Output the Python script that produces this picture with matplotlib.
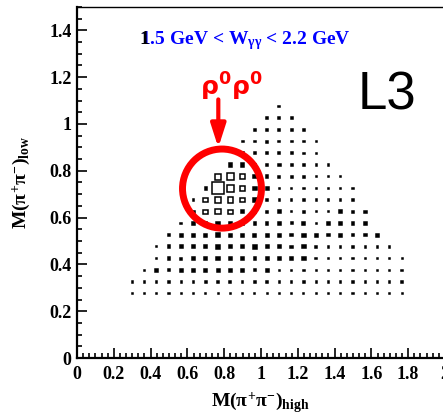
# L3 gamma gamma -> rho0 rho0 : M(pi+pi-)_low vs M(pi+pi-)_high box plot
import matplotlib
matplotlib.use("Agg")
import matplotlib.pyplot as plt
from matplotlib.patches import Rectangle, Ellipse
from matplotlib.ticker import MultipleLocator, FuncFormatter

plt.rcParams['font.family'] = ['Liberation Serif', 'DejaVu Sans']
plt.rcParams['font.weight'] = 'bold'
plt.rcParams['mathtext.fontset'] = 'custom'
plt.rcParams['mathtext.rm'] = 'Liberation Serif:bold'
plt.rcParams['mathtext.it'] = 'Liberation Serif'
plt.rcParams['mathtext.bf'] = 'Liberation Serif:bold'

# bin centres (GeV)
m_high_centers = [0.300, 0.367, 0.433, 0.500, 0.567, 0.633, 0.700, 0.767, 0.833, 0.900,
                  0.967, 1.033, 1.100, 1.167, 1.233, 1.300, 1.367, 1.433, 1.500, 1.567,
                  1.633, 1.700, 1.767]
m_low_centers = [1.075, 1.025, 0.975, 0.925, 0.875, 0.825, 0.775, 0.725, 0.675, 0.625,
                 0.575, 0.525, 0.475, 0.425, 0.375, 0.325, 0.275]
bin_w = 2.0 / 30
bin_h = 1.5 / 30

# relative box size per cell, rows follow m_low_centers, columns m_high_centers
box_size = [
    [0] * 12 + [.12] + [0] * 10,
    [0] * 11 + [.12, .12, .12] + [0] * 9,
    [0] * 10 + [.12, .14, .12, .12, .16] + [0] * 8,
    [0] * 9 + [.12, .12, .14, .12, .12, .09, .09] + [0] * 7,
    [0] * 9 + [.14, .14, .14, .12, .12, .09, .09] + [0] * 7,
    [0] * 8 + [.22, .22, .14, .12, .19, .12, .09, .09, .09] + [0] * 6,
    [0] * 7 + [.40, .44, .30, .22, .16, .14, .14, .14, .09, .09, .09] + [0] * 5,
    [0] * 6 + [.16, .80, .44, .32, .22, .19, .09, .09, .09, .09, .09, .09, .09] + [0] * 4,
    [0] * 5 + [.09, .32, .40, .36, .28, .22, .16, .09, .09, .09, .09, .09, .09, .09] + [0] * 4,
    [0] * 5 + [.16, .30, .36, .30, .19, .16, .16, .22, .09, .12, .09, .09, .22, .16, .16] + [0] * 3,
    [0] * 4 + [.12, .16, .16, .24, .19, .19, .16, .16, .22, .14, .19, .07, .16, .22, .16, .16] + [0] * 3,
    [0] * 3 + [.12, .19, .19, .19, .24, .19, .19, .19, .19, .22, .16, .22, .22, .16, .22, .16, .16, .19] + [0] * 2,
    [0] * 2 + [.07, .19, .19, .19, .19, .24, .19, .19, .24, .19, .22, .16, .22, .16, .09, .09, .09, .09, .09, .09] + [0],
    [0] * 2 + [.07, .19, .14, .19, .19, .24, .19, .19, .16, .19, .22, .16, .22, .12, .09, .09, .09, .09, .09, .09, .07],
    [0] + [.07, .19, .14, .19, .19, .19, .19, .19, .19, .16, .19, .09, .09, .09, .09, .09, .09, .09, .09, .09, .09, .09],
    [.09, .09, .10, .10, .09, .10, .10, .10, .10, .10, .09, .09, .09, .10, .09, .09, .09, .09, .09, .09, .09, .09, .09],
    [.07, .07, .07, .07, .07, .07, .07, .07, .07, .07, .07, .07, .07, .07, .07, .07, .07, .07, .07, .07, .07, .07, .07],
]

x_ticks = [0, 0.2, 0.4, 0.6, 0.8, 1.0, 1.2, 1.4, 1.6, 1.8, 2.0]
y_ticks = [0, 0.2, 0.4, 0.6, 0.8, 1.0, 1.2, 1.4]

fig = plt.figure(figsize=(4.43, 4.16), dpi=100)
ax = fig.add_axes([0.1738, 0.1394, 0.8307, 0.8438])
ax.set_xlim(0, 2)
ax.set_ylim(0, 1.5)

size_scale = 1.25  # box side = content * scale * bin size
for row, yc in zip(box_size, m_low_centers):
    for v, xc in zip(row, m_high_centers):
        if v <= 0:
            continue
        w = v * size_scale * bin_w
        h = v * size_scale * bin_h
        # small boxes look solid in the original (outline fills them)
        face = 'black' if v < 0.27 else 'white'
        ax.add_patch(Rectangle((xc - w / 2, yc - h / 2), w, h, facecolor=face,
                               edgecolor='black', lw=1.1, zorder=2))

# red circle and arrow around the rho0 rho0 region
ax.add_patch(Ellipse((0.788, 0.724), 0.429, 0.338, fill=False, edgecolor='red', lw=5, zorder=3))
ax.annotate('', xy=(0.768, 0.899), xytext=(0.768, 1.105),
            arrowprops=dict(arrowstyle='-|>,head_length=1.4,head_width=0.45', lw=3,
                            color='red', shrinkA=0, shrinkB=0), zorder=3)
ax.text(0.837, 1.12, r'$\mathrm{\rho}^{\mathbf{0}}\mathrm{\rho}^{\mathbf{0}}$', color='red',
        fontsize=18, ha='center', va='baseline', math_fontfamily='dejavusans')

title = '1.5 GeV < W$_{\\gamma\\gamma}$ < 2.2 GeV'
ax.text(0.342, 1.340, title, color='blue', fontsize=14, fontweight='bold',
        ha='left', va='baseline')
ax.text(0.342, 1.340, '1', color='black', fontsize=14, fontweight='bold',
        ha='left', va='baseline', zorder=5)

ax.text(1.6875, 1.062, 'L3', fontsize=38, family='Liberation Sans', fontweight='normal',
        ha='center', va='baseline')

ax.set_xticks(x_ticks)
ax.set_yticks(y_ticks)
fmt = FuncFormatter(lambda v, p: '%g' % v)
ax.xaxis.set_major_formatter(fmt)
ax.yaxis.set_major_formatter(fmt)
ax.xaxis.set_minor_locator(MultipleLocator(1 / 30))
ax.yaxis.set_minor_locator(MultipleLocator(0.05))
ax.tick_params(which='both', direction='in', top=False, right=False, width=1.2)
ax.tick_params(which='major', length=7.5, labelsize=13)
ax.tick_params(which='minor', length=3.6)
ax.tick_params(axis='x', pad=6)
ax.tick_params(axis='y', pad=4)
for lab in ax.get_xticklabels() + ax.get_yticklabels():
    lab.set_fontweight('bold')

ax.spines['left'].set_linewidth(1.6)
ax.spines['bottom'].set_linewidth(1.6)
ax.spines['top'].set_linewidth(1.0)
ax.spines['right'].set_linewidth(1.0)

ax.set_xlabel(r'$\mathrm{M}(\pi^{+}\pi^{-})_{\mathrm{high}}$', fontsize=14)
ax.xaxis.set_label_coords(0.497, -0.092)
ax.set_ylabel(r'$\mathrm{M}(\pi^{+}\pi^{-})_{\mathrm{low}}$', fontsize=14)
ax.yaxis.set_label_coords(-0.122, 0.5)

fig.savefig('out.png', dpi=100)
